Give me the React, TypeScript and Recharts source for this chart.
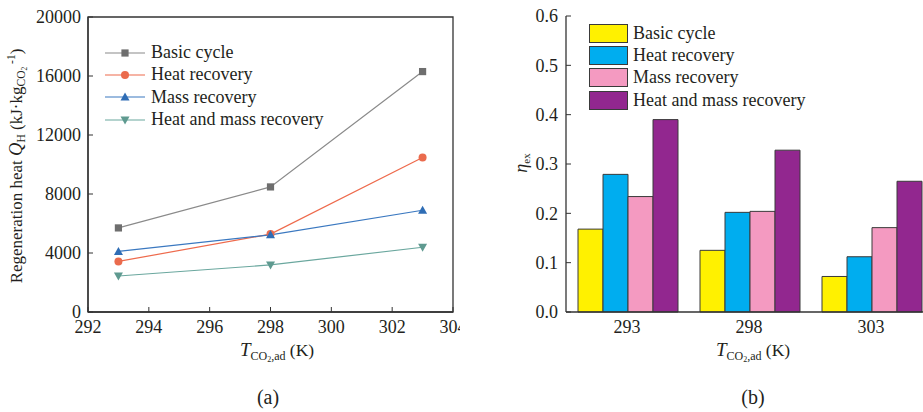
import React from 'react';
import { LineChart, Line, XAxis, YAxis, ReferenceArea, Legend, BarChart, Bar, Label } from 'recharts';

// ---- data ----
const temps = [293, 298, 303];
const seriesNames = ['Basic cycle', 'Heat recovery', 'Mass recovery', 'Heat and mass recovery'];

const basicHeat = [5700, 8480, 16300];
const heatRecHeat = [3430, 5280, 10480];
const massRecHeat = [4110, 5230, 6900];
const heatMassHeat = [2440, 3190, 4390];

const basicEff = [0.168, 0.125, 0.072];
const heatRecEff = [0.279, 0.202, 0.112];
const massRecEff = [0.234, 0.204, 0.171];
const heatMassEff = [0.39, 0.328, 0.265];

const xTicksA = [292, 294, 296, 298, 300, 302, 304];
const yTicksA = [0, 4000, 8000, 12000, 16000, 20000];
const yTicksB = [0, 0.1, 0.2, 0.3, 0.4, 0.5, 0.6];

const keys = ['basic', 'heatRec', 'massRec', 'heatMass'];

const dataA = temps.map((t, i) => ({
  temp: t,
  basic: basicHeat[i],
  heatRec: heatRecHeat[i],
  massRec: massRecHeat[i],
  heatMass: heatMassHeat[i],
}));

const dataB = temps.map((t, i) => ({
  temp: String(t),
  basic: basicEff[i],
  heatRec: heatRecEff[i],
  massRec: massRecEff[i],
  heatMass: heatMassEff[i],
}));

// ---- styles ----
const FONT = '"Liberation Serif", "Times New Roman", serif';
const TEXT = '#231f20';
const AXIS = '#333333';
const TICK_FS = 18;
const lineColors = ['#8a8a8a', '#ee6a4c', '#3a78c0', '#6aa79e'];
const markerColors = ['#6e6e6e', '#ea6b4d', '#2f6db5', '#5f9a90'];
const barColors = ['#fff100', '#00adef', '#f49ac1', '#92278f'];
const BAR_STROKE = '#3a3a3a';

type MarkerKind = 'square' | 'circle' | 'triUp' | 'triDown';
const markerKinds: MarkerKind[] = ['square', 'circle', 'triUp', 'triDown'];

function Marker({ kind, cx, cy, color }: { kind: MarkerKind; cx: number; cy: number; color: string }) {
  if (kind === 'square') return <rect x={cx - 3.6} y={cy - 3.6} width={7.2} height={7.2} fill={color} />;
  if (kind === 'circle') return <circle cx={cx} cy={cy} r={4} fill={color} />;
  if (kind === 'triUp')
    return <polygon points={`${cx - 4.5},${cy + 3.5} ${cx + 4.5},${cy + 3.5} ${cx},${cy - 4.5}`} fill={color} />;
  return <polygon points={`${cx - 4.5},${cy - 3.5} ${cx + 4.5},${cy - 3.5} ${cx},${cy + 4.5}`} fill={color} />;
}

const makeDot = (idx: number) => (props: any) => {
  const { cx, cy, index } = props;
  if (cx == null || cy == null) return <g key={`d-${idx}-${index}`} />;
  return (
    <g key={`d-${idx}-${index}`}>
      <Marker kind={markerKinds[idx]} cx={cx} cy={cy} color={markerColors[idx]} />
    </g>
  );
};

const LegendA = () => (
  <div style={{ fontFamily: FONT, fontSize: 18, color: TEXT }}>
    {seriesNames.map((n, i) => (
      <div key={n} style={{ display: 'flex', alignItems: 'center', height: 22.3, whiteSpace: 'nowrap' }}>
        <svg width={46} height={14} style={{ display: 'block' }}>
          <line x1={2} y1={7} x2={42} y2={7} stroke={lineColors[i]} strokeWidth={1.2} />
          <Marker kind={markerKinds[i]} cx={22} cy={7} color={markerColors[i]} />
        </svg>
        <span style={{ marginLeft: 2 }}>{n}</span>
      </div>
    ))}
  </div>
);

const LegendB = () => (
  <div style={{ fontFamily: FONT, fontSize: 18, color: TEXT }}>
    {seriesNames.map((n, i) => (
      <div key={n} style={{ display: 'flex', alignItems: 'center', height: 22.4, whiteSpace: 'nowrap' }}>
        <div
          style={{
            width: 39,
            height: 19,
            background: barColors[i],
            border: `1px solid ${BAR_STROKE}`,
            boxSizing: 'border-box',
          }}
        />
        <span style={{ marginLeft: 5 }}>{n}</span>
      </div>
    ))}
  </div>
);

const YTitleA = () => (
  <text transform="translate(22,166) rotate(-90)" textAnchor="middle" fontSize={17} fill={TEXT} fontFamily={FONT}>
    <tspan>Regeneration heat </tspan>
    <tspan fontStyle="italic" fontSize={18.5}>Q</tspan>
    <tspan fontSize={11.5} dy={3}>H</tspan>
    <tspan dy={-3}> (kJ·kg</tspan>
    <tspan fontSize={11.5} dy={3}>CO</tspan>
    <tspan fontSize={7.5} dy={2}>2</tspan>
    <tspan fontSize={11.5} dy={-12}> -1</tspan>
    <tspan dy={7}>)</tspan>
  </text>
);

const XTitle = ({ cx, lx, label }: { cx: number; lx: number; label: string }) => (
  <g>
    <text x={cx} y={356} textAnchor="middle" fontSize={17.5} fill={TEXT} fontFamily={FONT}>
      <tspan fontStyle="italic" fontSize={19}>T</tspan>
      <tspan fontSize={12} dy={4}>CO</tspan>
      <tspan fontSize={8} dy={2}>2</tspan>
      <tspan fontSize={12} dy={-2}>,ad</tspan>
      <tspan dy={-4}> (K)</tspan>
    </text>
    <text x={lx} y={404} textAnchor="middle" fontSize={20} fill={TEXT} fontFamily={FONT}>
      {label}
    </text>
  </g>
);

const YTitleB = () => (
  <text transform="translate(57,163) rotate(-90)" textAnchor="middle" fontSize={18} fill={TEXT} fontFamily={FONT}>
    <tspan fontStyle="italic">η</tspan>
    <tspan fontSize={11} dy={3}>ex</tspan>
  </text>
);

export default function App() {
  return (
    <div
      style={{
        position: 'absolute',
        left: 0,
        top: 0,
        width: 923,
        height: 412,
        overflow: 'hidden',
        background: '#ffffff',
        fontFamily: FONT,
      }}
    >
      <div style={{ position: 'absolute', left: 0, top: 0, width: 460, height: 412, overflow: 'hidden' }}>
        <LineChart width={470} height={412} data={dataA} margin={{ top: 17, right: 17, bottom: 0, left: 8 }}>
          <XAxis
            dataKey="temp"
            type="number"
            domain={[292, 304]}
            ticks={xTicksA}
            interval={0}
            tickSize={-5}
            tickMargin={13}
            height={100}
            stroke={AXIS}
            axisLine={{ stroke: AXIS, strokeWidth: 1.3 }}
            tickLine={{ stroke: AXIS, strokeWidth: 1 }}
            tick={{ fill: TEXT, fontSize: TICK_FS, fontFamily: FONT }}
          >
            <Label content={() => <XTitle cx={277} lx={268} label="(a)" />} />
          </XAxis>
          <YAxis
            type="number"
            domain={[0, 20000]}
            ticks={yTicksA}
            interval={0}
            width={80}
            tickSize={-5}
            tickMargin={12}
            stroke={AXIS}
            axisLine={{ stroke: AXIS, strokeWidth: 1.3 }}
            tickLine={{ stroke: AXIS, strokeWidth: 1 }}
            tick={{ fill: TEXT, fontSize: TICK_FS, fontFamily: FONT }}
          >
            <Label content={() => <YTitleA />} />
          </YAxis>
          <ReferenceArea
            x1={292}
            x2={304}
            y1={0}
            y2={20000}
            fill="none"
            fillOpacity={0}
            stroke={AXIS}
            strokeWidth={1.3}
            ifOverflow="visible"
          />
          {keys.map((k, i) => (
            <Line
              key={k}
              type="linear"
              dataKey={k}
              name={seriesNames[i]}
              stroke={lineColors[i]}
              strokeWidth={1.2}
              dot={makeDot(i)}
              activeDot={false}
              isAnimationActive={false}
            />
          ))}
          <Legend
            layout="vertical"
            align="center"
            verticalAlign="middle"
            content={() => <LegendA />}
            wrapperStyle={{ left: 103, top: 41.5, width: 300 }}
          />
        </LineChart>
      </div>

      <div style={{ position: 'absolute', left: 470, top: 0, width: 470, height: 412 }}>
        <BarChart
          width={470}
          height={412}
          data={dataB}
          margin={{ top: 16, right: 8, bottom: 0, left: 8 }}
          barCategoryGap={12}
          barGap={0}
        >
          <XAxis
            dataKey="temp"
            height={100}
            tickLine={false}
            tickSize={0}
            tickMargin={8}
            interval={0}
            axisLine={{ stroke: AXIS, strokeWidth: 1.6 }}
            tick={{ fill: TEXT, fontSize: TICK_FS, fontFamily: FONT }}
          >
            <Label content={() => <XTitle cx={283} lx={283} label="(b)" />} />
          </XAxis>
          <XAxis
            xAxisId="top"
            dataKey="temp"
            orientation="top"
            height={0}
            tick={false}
            tickLine={false}
            axisLine={{ stroke: AXIS, strokeWidth: 1.3 }}
          />
          <YAxis
            type="number"
            domain={[0, 0.6]}
            ticks={yTicksB}
            interval={0}
            width={88}
            tickSize={-5}
            tickMargin={13}
            tickFormatter={(v: number) => v.toFixed(1)}
            axisLine={{ stroke: AXIS, strokeWidth: 1.3 }}
            tickLine={{ stroke: AXIS, strokeWidth: 1 }}
            tick={{ fill: TEXT, fontSize: TICK_FS, fontFamily: FONT }}
          >
            <Label content={() => <YTitleB />} />
          </YAxis>
          {keys.map((k, i) => (
            <Bar
              key={k}
              dataKey={k}
              name={seriesNames[i]}
              fill={barColors[i]}
              stroke={BAR_STROKE}
              strokeWidth={1}
              isAnimationActive={false}
            />
          ))}
          <Legend
            layout="vertical"
            align="center"
            verticalAlign="middle"
            content={() => <LegendB />}
            wrapperStyle={{ left: 119, top: 22, width: 300 }}
          />
        </BarChart>
      </div>
    </div>
  );
}
